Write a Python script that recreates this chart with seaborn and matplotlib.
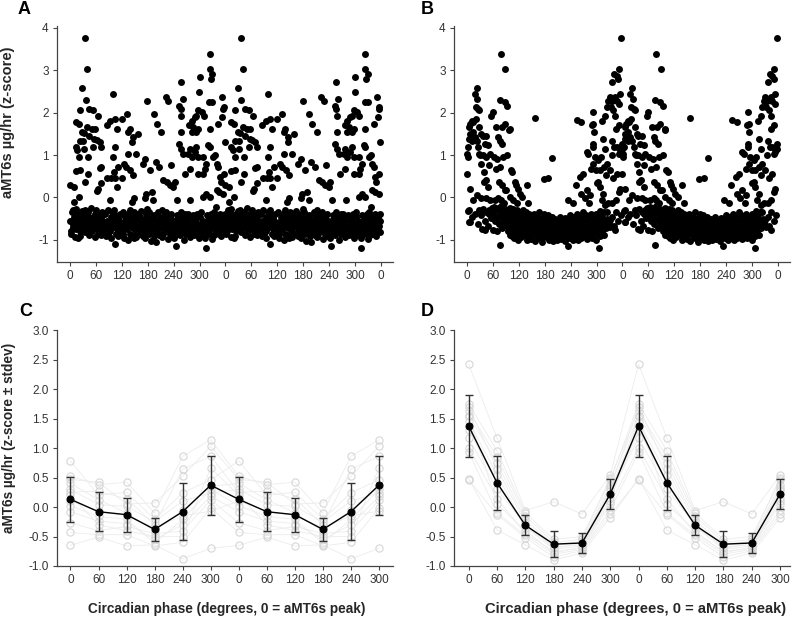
import numpy as np
import pandas as pd
import seaborn as sns
import matplotlib
matplotlib.use("Agg")
import matplotlib.pyplot as plt

# ---- datos (fase en grados, valor z) ----
# Panel A: muestras sobre la fase del reloj, puntos altos
A_upper = [(0, 0.29), (9, 0.25), (9, -0.10), (20, 0.02), (28, 2.59), (35, 3.75), (40, 3.02),
           (37, 2.30), (23, 2.07), (45, 2.09), (54, 2.06), (64, 1.91), (14, 1.77), (20, 1.72),
           (28, 1.54), (33, 1.52), (40, 1.66), (50, 1.62), (58, 1.62), (23, 1.34), (31, 1.34),
           (45, 1.46), (56, 1.38), (62, 1.36), (69, 1.30), (73, 1.19), (14, 1.19), (17, 1.13),
           (32, 1.15), (42, 0.95), (22, 0.95), (54, 1.19), (23, 0.64), (14, 0.63), (42, 0.56),
           (69, 0.70), (73, 0.72), (35, 0.37), (66, 0.21), (63, 0.16), (73, 0.33), (86, 0.45),
           (96, 0.45), (104, 0.45), (99, 2.44), (85, 1.70), (93, 1.80), (104, 1.85), (108, 1.62),
           (99, 0.95), (104, 1.19), (102, 0.60), (108, 0.25), (93, -0.06), (112, 0.72),
           (131, 1.97), (120, 1.85), (139, 1.62), (135, 1.54), (145, 1.42), (144, 1.30),
           (135, 1.03), (126, 0.80), (130, 0.72), (140, 0.64), (147, 0.52), (148, -0.02),
           (143, -0.10), (120, 0.45), (158, 1.50), (154, 1.03), (168, 0.80), (174, 0.91),
           (177, 0.09), (174, -0.02), (179, 2.28), (194, 1.97), (199, 0.84), (207, 0.72),
           (201, 1.73), (185, 0.64), (189, 0.13), (193, -0.06), (211, 1.54), (216, 0.41),
           (222, 2.36), (228, 2.28), (233, 0.76), (224, 0.37), (239, 0.25), (231, 0.29),
           (256, 2.71), (253, 2.16), (256, 2.09), (258, 1.93), (258, 1.54), (253, 1.27),
           (258, 1.15), (262, 1.03), (266, 0.56), (261, 2.32), (243, 0.37), (247, -0.06),
           (301, 2.83), (299, 2.48), (297, 2.05), (293, 1.93), (289, 1.89), (282, 1.81),
           (285, 1.67), (276, 1.70), (282, 1.54), (293, 1.54), (297, 1.62), (274, 1.03),
           (282, 0.95), (289, 1.07), (297, 0.95), (278, 1.15), (293, 1.19), (278, 0.68),
           (297, 0.56), (279, -0.06), (324, 3.37), (324, 3.02), (326, 2.79), (329, 2.91),
           (323, 2.24), (330, 2.24), (324, 1.62), (320, 1.23), (324, 1.19), (309, 0.95),
           (316, 0.80), (309, 0.56), (312, 0.68), (316, 0.09), (309, 0.02), (324, 0.02),
           (332, 0.95), (305, 2.01), (310, 1.93), (351, 2.36), (355, 2.09), (356, 2.13),
           (353, 1.89), (343, 1.73), (340, 0.80), (343, 0.72), (347, 0.48), (349, 0.37),
           (340, 0.17), (346, 0.13), (355, 0.09), (359, 1.30), (356, 0.56), (336, 0.99),
           (338, -0.22)]

# Panel A: banda densa cerca de -0.7
A_band = [
    (1, -0.55), (3, -0.78), (5, -0.35), (6, -0.62), (8, -0.70), (9, -0.45), (2, -0.85), (7, -0.30),
    (11, -0.60), (12, -0.92), (14, -0.40), (15, -0.75), (17, -0.52), (18, -0.68), (13, -0.28), (19, -0.95),
    (21, -0.65), (22, -0.48), (24, -0.80), (25, -0.38), (27, -0.58), (28, -0.72), (23, -0.90), (29, -0.33),
    (31, -0.50), (32, -0.68), (34, -0.30), (35, -0.82), (37, -0.60), (38, -0.42), (33, -0.75), (39, -0.55),
    (41, -0.72), (42, -0.35), (44, -0.62), (45, -0.88), (47, -0.48), (48, -0.70), (43, -0.56), (49, -0.25),
    (51, -0.66), (52, -0.80), (54, -0.45), (55, -0.58), (57, -0.92), (58, -0.38), (53, -0.70), (59, -0.52),
    (61, -0.30), (62, -0.75), (64, -0.55), (65, -0.85), (67, -0.42), (68, -0.65), (63, -0.60), (69, -0.78),
    (71, -0.50), (72, -0.88), (74, -0.68), (75, -0.35), (77, -0.58), (78, -0.80), (73, -0.45), (79, -0.72),
    (81, -0.62), (82, -0.40), (84, -0.90), (85, -0.55), (87, -0.75), (88, -0.30), (83, -0.68), (89, -0.85),
    (91, -0.58), (92, -0.72), (94, -0.45), (95, -0.95), (97, -0.65), (98, -0.35), (93, -0.80), (99, -0.52),
    (101, -0.70), (102, -0.55), (104, -1.10), (105, -0.42), (107, -0.85), (108, -0.62), (103, -0.30), (109, -0.75),
    (111, -0.48), (112, -0.90), (114, -0.60), (115, -0.38), (117, -0.72), (118, -0.82), (113, -0.55), (119, -0.65),
    (121, -0.78), (122, -0.35), (124, -0.95), (125, -0.58), (127, -0.68), (128, -0.45), (123, -0.85), (129, -0.62),
    (131, -0.52), (132, -0.75), (134, -0.40), (135, -1.00), (137, -0.60), (138, -0.30), (133, -0.70), (139, -0.85),
    (141, -0.65), (142, -0.50), (144, -0.88), (145, -0.72), (147, -0.42), (148, -0.95), (143, -0.58), (149, -0.35),
    (151, -0.75), (152, -0.60), (154, -0.48), (155, -0.82), (157, -0.68), (158, -0.38), (153, -0.92), (159, -0.55),
    (161, -0.62), (162, -0.85), (164, -0.32), (165, -0.70), (167, -0.55), (168, -0.78), (163, -0.45), (169, -0.90),
    (171, -0.58), (172, -0.72), (174, -0.95), (175, -0.40), (177, -0.65), (178, -0.82), (173, -0.50), (179, -0.28),
    (181, -0.70), (182, -0.48), (184, -0.85), (185, -0.60), (187, -1.02), (188, -0.75), (183, -0.35), (189, -0.55),
    (191, -0.80), (192, -0.62), (194, -0.42), (195, -0.90), (197, -0.68), (198, -0.52), (193, -0.75), (199, -1.05),
    (201, -0.58), (202, -0.78), (204, -0.35), (205, -0.65), (207, -0.88), (208, -0.45), (203, -0.70), (209, -0.55),
    (211, -0.72), (212, -0.30), (214, -0.60), (215, -0.85), (217, -0.50), (218, -0.68), (213, -0.92), (219, -0.40),
    (221, -0.62), (222, -0.80), (224, -0.45), (225, -0.70), (227, -0.98), (228, -0.55), (223, -0.35), (229, -0.75),
    (231, -0.85), (232, -0.58), (234, -0.72), (235, -0.40), (237, -0.65), (238, -0.90), (233, -0.50), (239, -0.78),
    (241, -0.68), (242, -0.95), (244, -0.55), (245, -1.15), (247, -0.78), (248, -0.42), (243, -0.62), (249, -0.85),
    (251, -0.50), (252, -0.72), (254, -0.88), (255, -0.60), (257, -0.35), (258, -0.80), (253, -0.65), (259, -0.45),
    (261, -0.75), (262, -0.58), (264, -1.00), (265, -0.68), (267, -0.40), (268, -0.85), (263, -0.52), (269, -0.62),
    (271, -0.70), (272, -0.45), (274, -0.82), (275, -0.60), (277, -0.92), (278, -0.55), (273, -0.38), (279, -0.75),
    (281, -0.58), (282, -0.78), (284, -0.42), (285, -0.68), (287, -0.88), (288, -0.50), (283, -0.72), (289, -0.62),
    (291, -0.85), (292, -0.60), (294, -0.72), (295, -0.38), (297, -0.65), (298, -0.95), (293, -0.48), (299, -0.78),
    (301, -0.62), (302, -0.45), (304, -0.80), (305, -0.70), (307, -0.55), (308, -0.88), (303, -0.35), (309, -0.68),
    (311, -0.75), (312, -0.58), (314, -1.18), (315, -0.65), (317, -0.42), (318, -0.82), (313, -0.95), (319, -0.52),
    (321, -0.68), (322, -0.85), (324, -0.50), (325, -0.72), (327, -0.40), (328, -0.62), (323, -0.78), (329, -0.98),
    (331, -0.55), (332, -0.70), (334, -0.88), (335, -0.45), (337, -0.65), (338, -0.80), (333, -0.35), (339, -0.60),
    (341, -0.72), (342, -0.50), (344, -0.62), (345, -0.85), (347, -0.40), (348, -0.75), (343, -0.58), (349, -0.90),
    (351, -0.60), (352, -0.78), (354, -0.45), (355, -0.68), (357, -0.55), (358, -0.82), (353, -0.72), (359, -0.38)]

# Panel B: alineado al pico de aMT6s, puntos altos
B_upper = [(0, 0.55), (1, 1.03), (2, 0.95), (3, 1.19), (5, 1.38), (6, 1.50), (5, 1.66), (8, 1.73),
           (14, 1.54), (12, 1.81), (15, 1.77), (18, 2.44), (20, 1.85), (23, 2.59), (24, 2.32),
           (20, 2.13), (26, 2.09), (29, 2.05), (12, 1.34), (18, 1.42), (23, 1.34), (29, 1.66),
           (26, 1.19), (28, 1.03), (31, 0.99), (6, 0.21), (15, -0.06), (5, -0.30), (6, -0.57),
           (23, 0.05), (33, 1.50), (37, 1.46), (45, 1.46), (41, 1.27), (49, 1.23), (37, 0.99),
           (45, 0.95), (51, 0.76), (33, 0.80), (39, 0.60), (43, 0.41), (49, 0.25), (53, 1.03),
           (56, 1.93), (60, 2.01), (39, 0.37), (45, -0.02), (53, -0.06), (41, -0.77), (51, -0.38),
           (33, -0.02), (78, 3.37), (89, 3.02), (76, 2.30), (87, 2.24), (93, 2.16), (68, 1.66),
           (72, 1.42), (80, 1.66), (76, 1.34), (82, 1.27), (87, 1.73), (84, 0.95), (62, 0.95),
           (70, 0.91), (67, 0.68), (77, 0.72), (74, 0.37), (80, 0.29), (87, 0.17), (91, 0.17),
           (64, -0.06), (72, -0.02), (78, -0.06), (85, -0.14), (76, -1.12), (60, -0.77), (68, -0.45),
           (93, 0.99), (98, 1.58), (99, 1.62), (101, 0.64), (105, 0.60), (111, 0.37), (113, 0.29),
           (118, 0.21), (99, 0.02), (107, -0.06), (115, -0.14), (122, 0.09), (128, 0.02),
           (138, 0.29), (142, -0.14), (157, 1.87), (178, 0.43), (188, 0.45), (198, 0.94),
           (235, -0.06), (246, -0.14), (252, 0.29), (254, 1.83), (265, 1.79), (262, 0.48),
           (277, 1.07), (281, 1.03), (287, 0.68), (265, 0.09), (269, 0.56), (273, -0.02),
           (277, 0.17), (285, 0.05), (283, -0.14), (291, 2.01), (293, 1.73), (289, 1.70),
           (294, 1.54), (291, 1.27), (291, 1.19), (296, 0.95), (293, 0.80), (299, 0.64),
           (300, 0.33), (304, 0.37), (308, 0.25), (310, 0.95), (313, 1.81), (316, 1.38),
           (320, 1.15), (317, 0.72), (322, 0.52), (324, 0.80), (316, 0.09), (304, 0.88),
           (306, -1.20), (320, -0.18), (324, -0.34), (327, -0.14), (327, 2.28), (324, 2.13),
           (320, 1.93), (312, -0.06), (308, 0.64), (357, 3.75), (351, 3.02), (347, 2.87),
           (350, 2.79), (337, 2.71), (341, 2.91), (354, 2.44), (331, 2.36), (335, 2.28),
           (343, 2.36), (347, 2.28), (339, 2.05), (343, 1.93), (353, 2.20), (333, 2.13),
           (351, 1.70), (345, 1.62), (337, 1.34), (341, 1.19), (347, 1.19), (354, 1.07),
           (358, 1.27), (335, 0.99), (351, 1.03), (331, 0.64), (339, 0.45), (347, 0.56),
           (354, 0.21), (351, 0.13), (345, -0.06), (337, -0.14), (343, -0.77), (331, -0.53),
           (358, 1.15)]

# Panel B: banda baja, concentrada entre 90 y 320 grados
B_band = [
    (3, -0.32), (5, -0.58), (12, -0.45), (18, -0.38), (25, -0.62), (28, -0.30),
    (32, -0.42), (35, -0.75), (38, -0.28), (42, -0.55), (45, -0.35), (48, -0.68), (52, -0.30), (55, -0.48), (58, -0.25),
    (61, -0.40), (63, -0.22), (65, -0.55), (67, -0.30), (69, -0.78), (71, -0.45), (72, -0.25), (74, -0.62),
    (76, -0.35), (78, -0.20), (80, -0.50), (82, -0.72), (84, -0.38), (86, -0.58), (88, -0.28),
    (91, -0.45), (92, -0.62), (93, -0.30), (94, -0.80), (95, -0.52), (96, -0.70), (97, -0.38), (98, -0.58), (99, -0.88), (99, -0.25),
    (101, -0.55), (102, -0.35), (103, -0.72), (104, -0.48), (105, -0.90), (106, -0.62), (107, -0.28), (108, -0.78), (109, -0.42), (109, -0.95),
    (111, -0.65), (112, -0.38), (113, -0.85), (114, -0.52), (115, -0.30), (116, -0.72), (117, -0.58), (118, -1.00), (119, -0.45), (119, -0.68),
    (121, -0.50), (122, -0.78), (123, -0.35), (124, -0.62), (125, -0.92), (126, -0.45), (127, -0.70), (128, -0.58), (129, -0.85), (129, -0.30),
    (131, -0.68), (132, -0.42), (133, -0.88), (134, -0.55), (135, -0.75), (136, -0.35), (137, -0.62), (138, -1.00), (139, -0.50), (139, -0.80),
    (141, -0.58), (142, -0.72), (143, -0.40), (144, -0.90), (145, -0.65), (146, -0.50), (147, -0.82), (148, -0.45), (149, -0.70), (149, -0.98),
    (151, -0.62), (152, -0.85), (153, -0.48), (154, -0.75), (155, -0.38), (156, -0.68), (157, -1.02), (158, -0.55), (159, -0.78), (159, -0.42),
    (161, -0.72), (162, -0.55), (163, -0.90), (164, -0.45), (165, -0.65), (166, -0.80), (167, -0.35), (168, -0.60), (169, -0.95), (169, -0.70),
    (171, -0.58), (172, -0.82), (173, -0.68), (174, -1.05), (175, -0.48), (176, -0.75), (177, -0.62), (178, -0.88), (179, -0.40), (179, -0.70),
    (181, -0.75), (182, -0.60), (183, -0.92), (184, -0.50), (185, -0.70), (186, -0.85), (187, -0.42), (188, -0.65), (189, -1.00), (189, -0.78),
    (191, -0.68), (192, -0.88), (193, -0.55), (194, -0.78), (195, -0.95), (196, -0.45), (197, -0.72), (198, -0.62), (199, -0.85), (199, -1.02),
    (201, -0.80), (202, -0.62), (203, -0.90), (204, -0.70), (205, -0.50), (206, -0.85), (207, -0.75), (208, -1.00), (209, -0.58), (209, -0.68),
    (211, -0.72), (212, -0.92), (213, -0.60), (214, -0.82), (215, -0.45), (216, -0.78), (217, -0.98), (218, -0.65), (219, -0.88), (219, -0.55),
    (221, -0.85), (222, -0.68), (223, -0.95), (224, -0.58), (225, -0.78), (226, -1.02), (227, -0.72), (228, -0.48), (229, -0.88), (229, -0.62),
    (231, -0.75), (232, -0.90), (233, -0.62), (234, -1.15), (235, -0.80), (236, -0.55), (237, -0.95), (238, -0.70), (239, -0.85), (239, -0.42),
    (241, -0.68), (242, -0.88), (243, -0.52), (244, -0.78), (245, -1.00), (246, -0.62), (247, -0.85), (248, -0.45), (249, -0.72), (249, -0.95),
    (251, -0.80), (252, -0.58), (253, -0.92), (254, -0.70), (255, -0.40), (256, -0.85), (257, -0.65), (258, -1.00), (259, -0.75), (259, -0.50),
    (261, -0.62), (262, -0.85), (263, -0.72), (264, -0.45), (265, -0.95), (266, -0.58), (267, -0.80), (268, -0.68), (269, -0.90), (269, -0.35),
    (271, -0.75), (272, -0.55), (273, -0.88), (274, -0.65), (275, -0.42), (276, -0.80), (277, -0.70), (278, -0.98), (279, -0.60), (279, -0.85),
    (281, -0.68), (282, -0.90), (283, -0.50), (284, -0.78), (285, -0.62), (286, -0.85), (287, -0.40), (288, -0.72), (289, -0.95), (289, -0.58),
    (291, -0.80), (292, -0.62), (293, -0.88), (294, -0.45), (295, -0.72), (296, -0.55), (297, -0.82), (298, -0.68), (299, -1.00), (299, -0.38),
    (301, -0.70), (302, -0.50), (303, -0.85), (304, -0.62), (305, -0.40), (306, -0.78), (307, -0.58), (308, -0.90), (309, -0.32), (309, -0.68),
    (311, -0.60), (312, -0.80), (313, -0.45), (314, -0.70), (316, -0.55), (317, -0.88), (318, -0.35), (319, -0.65),
    (322, -0.72), (325, -0.50), (328, -0.60), (332, -0.70), (336, -0.45), (340, -0.68), (345, -0.35), (350, -0.55), (356, -0.42)]

# Paneles C y D: valor medio por sujeto en cada bin de fase (13 sujetos)
bins = [0, 60, 120, 180, 240, 300]
C_subj = [
    [0.78, -0.27, 0.47, 0.10, -0.65, 0.30, 0.52, -0.08, 0.25, 0.02, 0.40, -0.43, 0.20],
    [0.20, -0.40, 0.42, -0.07, -0.51, 0.04, 0.38, -0.24, 0.27, -0.16, 0.125, -0.47, -0.30],
    [0.25, -0.33, 0.05, -0.15, -0.66, 0.01, 0.42, -0.28, 0.14, -0.21, -0.10, -0.47, -0.40],
    [-0.21, -0.45, 0.07, -0.35, -0.64, -0.25, -0.10, -0.55, -0.30, -0.61, -0.41, -0.66, -0.50],
    [0.24, -0.41, 0.52, -0.15, -0.88, 0.10, 0.86, -0.30, 0.64, -0.21, -0.05, -0.60, -0.50],
    [0.46, 0.12, 1.03, -0.07, -0.70, 0.24, 1.14, 0.18, 0.86, 0.30, 0.35, -0.02, 0.66]]
D_subj = [
    [2.42, 1.45, 1.75, 0.48, 1.17, 1.62, 1.00, 1.55, 0.93, 1.70, 0.46, 1.30, 1.55],
    [1.17, 0.55, 0.95, -0.39, 0.30, 0.85, 0.14, 0.75, -0.10, 0.65, -0.13, 0.40, 0.05],
    [-0.06, -0.36, -0.10, -0.64, -0.30, -0.15, -0.45, -0.22, -0.48, -0.27, -0.52, -0.33, -0.40],
    [0.09, -0.62, -0.55, -0.90, -0.68, -0.60, -0.75, -0.65, -0.80, -0.70, -0.85, -0.72, -0.78],
    [-0.12, -0.60, -0.50, -0.78, -0.64, -0.55, -0.70, -0.58, -0.72, -0.62, -0.74, -0.66, -0.68],
    [0.54, 0.28, 0.45, -0.18, 0.22, 0.50, 0.05, 0.38, -0.05, 0.32, -0.12, 0.15, 0.10]]

C_mean = [0.13, -0.08, -0.13, -0.38, -0.08, 0.37]
C_sd = [0.38, 0.33, 0.29, 0.20, 0.48, 0.50]
D_mean = [1.37, 0.41, -0.31, -0.63, -0.61, 0.22]
D_sd = [0.53, 0.46, 0.17, 0.22, 0.165, 0.25]

ylab_top = "aMT6s µg/hr (z-score)"
ylab_bot = "aMT6s µg/hr (z-score ± stdev)"
xlab = "Circadian phase (degrees, 0 = aMT6s peak)"

# ---- estilo ----
sns.set_style("ticks")
plt.rcParams['font.family'] = ['Liberation Sans Narrow', 'Liberation Sans', 'DejaVu Sans']
plt.rcParams['axes.unicode_minus'] = False
AX_COL = '#444444'
TXT_COL = '#333333'
BOLD_FONT = ['Liberation Sans', 'DejaVu Sans']

fig = plt.figure(figsize=(7.92, 6.2), dpi=100)
W, H = 792, 620


def add_ax(left, top, right, bottom):
    return fig.add_axes([left / W, 1 - bottom / H, (right - left) / W, (bottom - top) / H])


def style(ax):
    sns.despine(ax=ax)
    for s in ['left', 'bottom']:
        ax.spines[s].set_color(AX_COL)
        ax.spines[s].set_linewidth(0.9)
    ax.tick_params(axis='both', colors=AX_COL, labelcolor=TXT_COL, length=3,
                   width=0.8, labelsize=8.5, pad=3)


def double(points):
    df = pd.DataFrame(points, columns=['phase', 'value'])
    df2 = df.copy()
    df2['phase'] = df2['phase'] + 360
    return pd.concat([df, df2], ignore_index=True)


def scatter_panel(ax, upper, band):
    df = pd.concat([double(band), double(upper)], ignore_index=True)
    sns.scatterplot(data=df, x='phase', y='value', ax=ax, color='black',
                    s=25, linewidth=0, legend=False)
    ax.set_xlim(-30, 748)
    ax.set_ylim(-1.52, 4.04)
    ax.set_xticks(range(0, 721, 60))
    ax.set_xticklabels([str(v % 360) for v in range(0, 721, 60)])
    ax.set_yticks([-1, 0, 1, 2, 3, 4])
    ax.set_xlabel('')
    ax.set_ylabel('')
    style(ax)


def mean_panel(ax, subj, means, sds, xlim):
    rows = []
    for rep in range(2):
        for i, vals in enumerate(subj):
            for s, v in enumerate(vals):
                rows.append({'pos': rep * 6 + i, 'subject': s, 'value': v})
    df = pd.DataFrame(rows)
    sns.lineplot(data=df, x='pos', y='value', units='subject', estimator=None, ax=ax,
                 color='#ececec', linewidth=0.6, marker='o', markersize=5.2,
                 markerfacecolor='none', markeredgecolor='#d6d6d6', markeredgewidth=0.8,
                 legend=False, zorder=1)
    m = pd.DataFrame({'pos': range(12), 'mean': means * 2, 'sd': sds * 2})
    ax.errorbar(m['pos'], m['mean'], yerr=m['sd'], fmt='none', ecolor='#333333',
                elinewidth=1.0, capsize=3, capthick=1.0, zorder=3)
    sns.lineplot(data=m, x='pos', y='mean', ax=ax, color='black', linewidth=1.0,
                 marker='o', markersize=5, markeredgecolor='black', zorder=4)
    ax.set_xlim(*xlim)
    ax.set_ylim(-1.0, 3.0)
    ax.set_xticks(range(12))
    ax.set_xticklabels([str(b) for b in bins] * 2)
    ax.set_yticks(np.arange(-1.0, 3.01, 0.5))
    ax.set_yticklabels([f"{v:.1f}" for v in np.arange(-1.0, 3.01, 0.5)])
    ax.set_xlabel('')
    ax.set_ylabel('')
    style(ax)


axA = add_ax(57, 26, 393, 262)
axB = add_ax(454, 26, 790, 262)
axC = add_ax(57, 330, 393, 566)
axD = add_ax(454, 330, 790, 566)

scatter_panel(axA, A_upper, A_band)
scatter_panel(axB, B_upper, B_band)
mean_panel(axC, C_subj, C_mean, C_sd, (-0.48, 11.5))
mean_panel(axD, D_subj, D_mean, D_sd, (-0.52, 11.35))

# letras de panel
for lab, x, y in [('A', 18, 9), ('B', 421, 9), ('C', 19, 311), ('D', 421, 311)]:
    fig.text(x / W, 1 - y / H, lab, fontsize=13, fontweight='bold', ha='left', va='center',
             family=BOLD_FONT, color='black')

fig.text(8 / W, 1 - 122 / H, ylab_top, rotation=90, fontsize=10.5, fontweight='bold',
         ha='center', va='center', family=BOLD_FONT)
fig.text(9 / W, 1 - 438 / H, ylab_bot, rotation=90, fontsize=9.8, fontweight='bold',
         ha='center', va='center', family=BOLD_FONT)
fig.text(227 / W, 1 - 609 / H, xlab, fontsize=9.8, fontweight='bold',
         ha='center', va='center', family=BOLD_FONT)
fig.text(636 / W, 1 - 609 / H, xlab, fontsize=10.6, fontweight='bold',
         ha='center', va='center', family=BOLD_FONT)

fig.savefig('out.png', dpi=100)
